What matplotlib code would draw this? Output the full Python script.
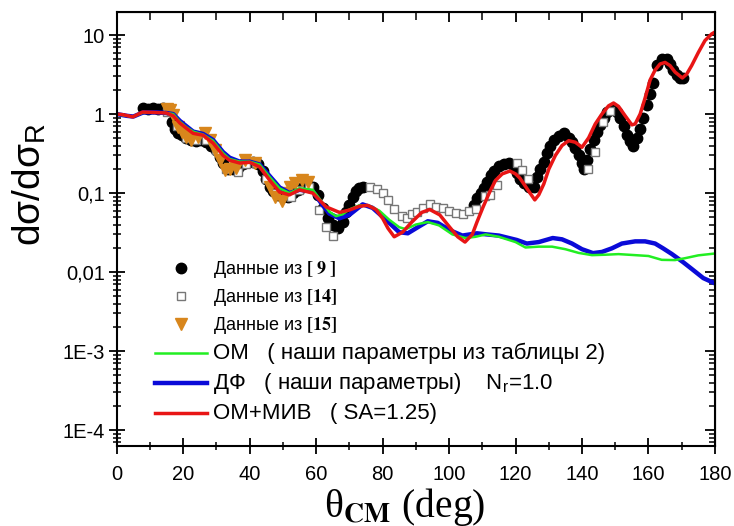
import matplotlib
matplotlib.use("Agg")
import matplotlib.pyplot as plt
from matplotlib.ticker import LogLocator, MultipleLocator, NullFormatter

plt.rcParams["font.family"] = ["Liberation Sans", "DejaVu Sans"]
plt.rcParams["mathtext.fontset"] = "stix"

# data [9] (black circles)
d9_theta = [8, 9.5, 11, 12.5, 14, 15.5, 16.5, 17.5, 18.5, 19.5, 21, 22.5, 24, 25.5, 27,
            28.5, 30, 31, 32, 33.5, 35, 36.5, 38, 39.5, 41, 42.5, 44, 45, 46, 47,
            48.5, 50, 51.5, 53, 54.5, 56, 57.5, 59, 60.5, 62, 63.5, 65, 66.5, 68, 69,
            70, 71, 72, 73, 74,
            107.5, 108.5, 109.5, 110.5, 111.5, 112.5, 113.5, 115, 116.5, 118,
            119.5, 120.5, 121.5, 122.5, 124, 125.5, 126.5, 127.5, 128.5, 129.5,
            130.5, 131.5, 133, 134.5, 136, 137, 138, 139, 140, 140.5,
            141.5, 142.5, 143.5, 144.5, 145.5, 146.5, 147.5, 149, 150.5, 151.5,
            152.5, 153.5, 154.5, 155.5, 156.5, 157.5, 158.5, 159.5, 160.5, 161.5,
            162.5, 164, 165.5, 166.5, 167.5, 168.5, 169.5, 170.5]
d9_sigma = [1.2, 1.15, 1.2, 1.15, 1.2, 1.15, 0.8, 0.65, 0.58, 0.54, 0.5, 0.47, 0.46, 0.47, 0.44,
            0.4, 0.35, 0.29, 0.24, 0.2, 0.2, 0.21, 0.23, 0.25, 0.25, 0.23, 0.19, 0.15, 0.12, 0.105,
            0.095, 0.088, 0.09, 0.1, 0.11, 0.12, 0.125, 0.12, 0.095, 0.065, 0.048, 0.039, 0.036, 0.043, 0.057,
            0.07, 0.09, 0.105, 0.115, 0.12,
            0.07, 0.086, 0.1, 0.116, 0.14, 0.17, 0.19, 0.22, 0.23, 0.24,
            0.22, 0.18, 0.15, 0.135, 0.12, 0.12, 0.16, 0.2, 0.25, 0.32,
            0.4, 0.47, 0.53, 0.57, 0.5, 0.44, 0.37, 0.3, 0.24, 0.2,
            0.26, 0.36, 0.47, 0.6, 0.72, 0.88, 1.05, 1.15, 1.05, 0.9,
            0.7, 0.55, 0.45, 0.4, 0.5, 0.65, 0.9, 1.3, 1.8, 2.5,
            4.2, 5.0, 5.0, 4.3, 3.6, 3.1, 2.9, 2.85]

# data [14] (open squares)
d14_theta = [15, 18, 21, 24, 27, 30, 33, 36.4, 39, 42, 45, 48, 52.5, 55, 58, 61, 63, 65,
             76.2, 78.2, 80, 81.6, 83.5, 85.8, 87.3, 88.8, 90.3, 92.1, 94.2, 96, 98.1,
             100, 102, 104.2, 106, 108, 110.8, 112.3, 114.3, 120.4, 122, 123.7,
             141.8, 143.9, 146.3, 148.5]
d14_sigma = [1.05, 0.7, 0.5, 0.47, 0.47, 0.35, 0.2, 0.185, 0.23, 0.24, 0.15, 0.1, 0.088, 0.11, 0.12,
             0.061, 0.037, 0.029,
             0.119, 0.112, 0.1, 0.082, 0.063, 0.051, 0.048, 0.054, 0.058, 0.065, 0.073, 0.067, 0.065,
             0.059, 0.056, 0.054, 0.059, 0.063, 0.092, 0.094, 0.126, 0.24, 0.195, 0.15,
             0.2, 0.33, 0.79, 1.1]

# data [15] (orange triangles)
d15_theta = [15, 16, 17, 18.4, 19.6, 21, 22.5, 24.4, 26.5, 28, 29.5, 31, 32.5, 34, 36,
             38.5, 41.5, 46, 47.6, 49.6, 50.6, 52, 53.6, 55.7, 57.5]
d15_sigma = [1.15, 1.12, 0.97, 0.68, 0.59, 0.51, 0.47, 0.51, 0.57, 0.47, 0.35, 0.26, 0.195, 0.2, 0.21,
             0.26, 0.24, 0.12, 0.089, 0.08, 0.1, 0.12, 0.134, 0.146, 0.138]

# OM (green)
om_theta = [0, 3, 5, 8, 12, 15, 17, 19, 21, 23, 26, 29, 32, 34, 37, 40, 43, 46, 49, 52, 55,
            59, 62, 64, 66, 68, 70, 73, 76, 79, 82, 85, 87, 90, 93.6, 97, 101, 105, 108,
            111, 115, 120, 123, 127, 131, 135, 139, 143, 147, 151, 155, 160, 164, 168, 171,
            175, 180]
om_sigma = [1.0, 0.95, 0.93, 1.05, 1.05, 1.03, 1.0, 0.8, 0.68, 0.6, 0.55, 0.46, 0.32, 0.27, 0.25,
            0.25, 0.23, 0.16, 0.115, 0.1, 0.115, 0.11, 0.075, 0.058, 0.051, 0.054, 0.062, 0.07,
            0.069, 0.06, 0.046, 0.037, 0.035, 0.04, 0.043, 0.039, 0.03, 0.027, 0.028,
            0.03, 0.028, 0.024, 0.0205, 0.021, 0.021, 0.0195, 0.0175, 0.0164, 0.0166, 0.0169,
            0.0165, 0.016, 0.0143, 0.0142, 0.015, 0.0163, 0.0172]

# DF (blue)
df_theta = [0, 3, 5, 8, 12, 15, 17, 19, 21, 23, 26, 29, 32, 34, 37, 40, 43, 46, 49, 52, 55,
            59, 62, 64, 67, 70, 74, 77, 81, 85, 87.6, 90.6, 93.6, 96.6, 100.2, 104, 108.4,
            111.4, 115, 120.4, 123.4, 127, 131.2, 134, 137, 140, 143.3, 146, 149, 152, 156,
            159, 162, 164.4, 167, 170.4, 173, 176.5, 180]
df_sigma = [1.0, 0.95, 0.93, 1.05, 1.05, 1.03, 1.0, 0.82, 0.7, 0.6, 0.56, 0.47, 0.33, 0.28, 0.25,
            0.25, 0.23, 0.165, 0.118, 0.1, 0.11, 0.105, 0.07, 0.055, 0.048, 0.053, 0.072, 0.065,
            0.046, 0.032, 0.031, 0.037, 0.044, 0.042, 0.034, 0.029, 0.031,
            0.030, 0.029, 0.0255, 0.023, 0.024, 0.027, 0.026, 0.023, 0.0195, 0.0174, 0.018,
            0.020, 0.023, 0.0245, 0.0245, 0.023, 0.02, 0.017, 0.0134, 0.011, 0.0084, 0.0072]

# OM + MIV (red)
miv_theta = [0, 2, 4.8, 7.8, 11, 15, 17, 19, 21, 23, 26, 29, 32, 34, 37, 40, 43, 46, 49, 52, 55,
             59, 63, 67, 70, 73, 75.5, 78, 80, 81.6, 83.5, 86, 88.8, 91.8, 94.2, 97.2, 100.2,
             102.6, 104.8, 107, 108.4, 110.2, 112.3, 114, 116, 118.3, 120, 121.3, 123.7,
             125.8, 127, 128.5, 130, 132, 134, 136, 138, 140, 142, 144, 146, 148, 149.5, 151,
             153, 155, 156, 157.5, 159, 160.5, 162, 163.5, 165, 166.5, 168, 170.2, 171.5, 173,
             175, 177, 179, 180]
miv_sigma = [1.0, 0.98, 0.92, 1.06, 1.05, 1.03, 0.95, 0.77, 0.66, 0.57, 0.54, 0.43, 0.3, 0.26, 0.24,
             0.245, 0.215, 0.146, 0.103, 0.095, 0.11, 0.1, 0.067, 0.057, 0.061, 0.068, 0.07, 0.062,
             0.048, 0.036, 0.028, 0.032, 0.043, 0.057, 0.062, 0.053, 0.037,
             0.028, 0.024, 0.03, 0.043, 0.066, 0.105, 0.145, 0.175, 0.19, 0.175, 0.155, 0.11,
             0.082, 0.095, 0.13, 0.2, 0.3, 0.4, 0.46, 0.44, 0.38, 0.5, 0.75, 1.0, 1.27, 1.38, 1.25,
             0.95, 0.73, 0.75, 1.0, 1.6, 2.7, 3.6, 4.3, 4.5, 4.1, 3.4, 2.86, 3.2, 4.1,
             6.0, 8.5, 10.3, 10.9]

ytick_vals = [1e-4, 1e-3, 1e-2, 1e-1, 1, 10]
ytick_text = ["1E-4", "1E-3", "0,01", "0,1", "1", "10"]

fig = plt.figure(figsize=(7.34, 5.26), dpi=100)
ax = fig.add_axes([0.159, 0.152, 0.815, 0.825])

ax.plot(d9_theta, d9_sigma, "o", color="black", ms=7.5, ls="none",
        label=r"Данные из $\mathbf{[\ 9\ ]}$")
ax.plot(d14_theta, d14_sigma, "s", mfc="white", mec="#777777", mew=1.0, ms=6, ls="none",
        label=r"Данные из $\mathbf{[14]}$")
ax.plot(d15_theta, d15_sigma, "v", color="#d8861c", ms=8.5, ls="none",
        label=r"Данные из $\mathbf{[15]}$")
ax.plot(df_theta, df_sigma, color="#0a0ad8", lw=3.2,
        label="ДФ   ( наши параметры)    N$_\\mathregular{r}$=1.0")
ax.plot(om_theta, om_sigma, color="#22ee22", lw=1.8,
        label="ОМ   ( наши параметры из таблицы 2)")
ax.plot(miv_theta, miv_sigma, color="#e81515", lw=2.5,
        label="ОМ+МИВ   ( SA=1.25)")

ax.set_yscale("log")
ax.set_xlim(0, 180)
ax.set_ylim(6.3e-5, 19.5)
ax.set_yticks(ytick_vals)
ax.set_yticklabels(ytick_text)
ax.yaxis.set_minor_locator(LogLocator(base=10, subs=range(2, 10)))
ax.yaxis.set_minor_formatter(NullFormatter())
ax.xaxis.set_major_locator(MultipleLocator(20))
ax.xaxis.set_minor_locator(MultipleLocator(10))

for sp in ax.spines.values():
    sp.set_linewidth(1.5)
ax.tick_params(which="major", direction="inout", length=11, width=1.3, labelsize=14.5)
ax.tick_params(axis="x", which="major", pad=8)
ax.tick_params(axis="y", which="major", pad=3)
ax.tick_params(which="minor", direction="inout", length=6, width=1.1)

top = ax.secondary_xaxis("top")
top.xaxis.set_major_locator(MultipleLocator(20))
top.xaxis.set_minor_locator(MultipleLocator(10))
top.tick_params(which="major", direction="in", length=7, width=1.3, labeltop=False)
top.tick_params(which="minor", direction="in", length=6, width=1.1)
right = ax.secondary_yaxis("right")
right.set_yticks(ytick_vals)
right.yaxis.set_minor_locator(LogLocator(base=10, subs=range(2, 10)))
right.tick_params(which="major", direction="in", length=7, width=1.3, labelright=False)
right.tick_params(which="minor", direction="in", length=4, width=1.1, labelright=False)
right.yaxis.set_minor_formatter(NullFormatter())

handles, labels = ax.get_legend_handles_labels()
order = [0, 1, 2, 4, 3, 5]
leg = fig.legend([handles[i] for i in order], [labels[i] for i in order],
                 loc="upper left", bbox_to_anchor=(0.211, 0.507), frameon=False,
                 fontsize=13, handlelength=2.9, handletextpad=0.3, labelspacing=0.38,
                 borderpad=0, borderaxespad=0, numpoints=1)
for t in leg.get_texts()[3:]:
    t.set_fontsize(16)

fig.text(0.042, 0.65, "dσ/dσ$_\\mathregular{R}$", rotation=90, fontsize=28,
         ha="center", va="center")
fig.text(0.551, 0.037, "θ$_{\\mathbf{CM}}$ (deg)", fontsize=28.5, ha="center", va="center",
         family=["Liberation Serif", "DejaVu Serif"])

fig.savefig("out.png", dpi=100)
